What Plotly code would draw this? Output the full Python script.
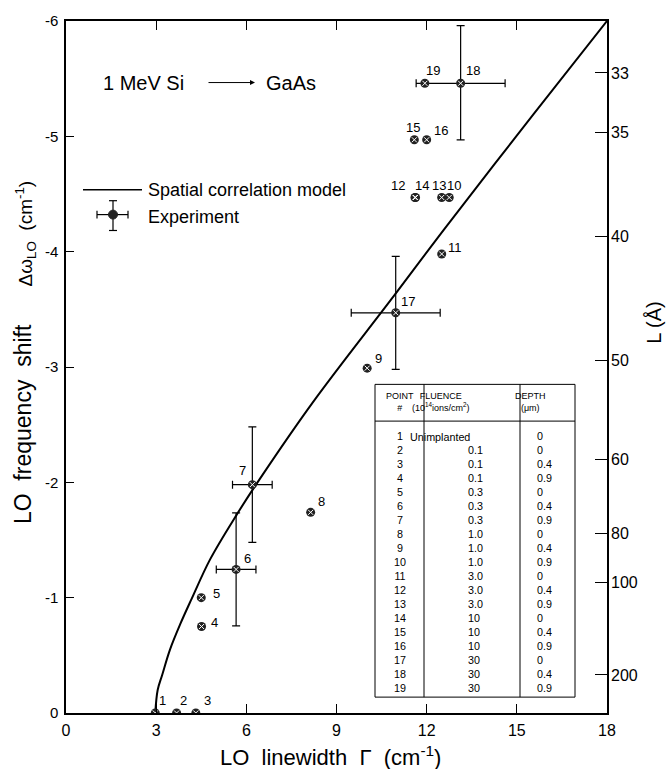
import plotly.graph_objects as go

# ---------------- data ----------------
point_ids = [str(i) for i in range(1, 20)]
linewidth = [2.97, 3.68, 4.32, 4.51, 4.50, 5.66, 6.20, 8.14, 10.02, 12.75,
             12.50, 11.61, 12.50, 11.63, 11.59, 12.00, 10.97, 13.13, 11.94]
shift = [0.0, 0.0, 0.0, -0.75, -1.00, -1.245, -1.98, -1.74, -2.99, -4.47,
         -3.98, -4.47, -4.47, -4.47, -4.97, -4.97, -3.47, -5.46, -5.46]

# error bars (only points 6, 7, 17, 18)
err_points = [6, 7, 17, 18]
err_x = [0.66, 0.66, 1.48, 1.48]
err_y_plus = [0.49, 0.50, 0.49, 0.49]
err_y_minus = [0.49, 0.50, 0.49, 0.50]

# spatial correlation model curve
model_x = [2.97, 3.05, 3.2, 3.46, 3.8, 4.18, 4.79, 5.68, 6.45, 8.23, 10.89, 12.6, 15.55, 18.0]
model_y = [0.0, -0.2, -0.33, -0.55, -0.77, -0.99, -1.33, -1.72, -2.03, -2.70, -3.61, -4.20, -5.19, -6.0]

# axis ticks
x_ticks = [0, 3, 6, 9, 12, 15, 18]
x_ticktext = ["0", "3", "6", "9", "12", "15", "18"]
y_ticks = [0, -1, -2, -3, -4, -5, -6]
y_ticktext = ["0", "-1", "-2", "-3", "-4", "-5", "-6"]
L_labels = ["33", "35", "40", "50", "60", "80", "100", "200"]
L_pos = [-5.55, -5.03, -4.13, -3.06, -2.20, -1.56, -1.13, -0.33]

# table
tbl_point = point_ids
tbl_fluence = ["Unimplanted", "0.1", "0.1", "0.1", "0.3", "0.3", "0.3", "1.0", "1.0", "1.0",
               "3.0", "3.0", "3.0", "10", "10", "10", "30", "30", "30"]
tbl_depth = ["0", "0", "0.4", "0.9", "0", "0.4", "0.9", "0", "0.4", "0.9",
             "0", "0.4", "0.9", "0", "0.4", "0.9", "0", "0.4", "0.9"]

# point label offsets (px) -- style only
label_shift = {
    1: (7, 13), 2: (7, 13), 3: (12, 13), 4: (13, 4), 5: (15, 4), 6: (11, 11),
    7: (-10, 14), 8: (11, 11), 9: (11, 10), 10: (5, 12), 11: (13, 6), 12: (-17, 12),
    13: (-3, 12), 14: (6, 12), 15: (-1, 12), 16: (14, 9), 17: (12, 11), 18: (12, 13), 19: (8, 13)
}

# ---------------- layout geometry ----------------
W, H = 667, 769
L_M, R_M, T_M, B_M = 66, 60, 16, 56
PW = W - L_M - R_M
PH = H - T_M - B_M


def px(xp):
    return (xp - L_M) / PW


def py(yp):
    return (H - B_M - yp) / PH


FONT = "Liberation Sans, Arial, Helvetica, sans-serif"

fig = go.Figure()

# model curve
fig.add_trace(go.Scatter(x=model_x, y=model_y, mode="lines",
                         line=dict(color="black", width=2, shape="spline", smoothing=1.0),
                         showlegend=False, hoverinfo="skip"))

# error bars
ex_x = [linewidth[i - 1] for i in err_points]
ex_y = [shift[i - 1] for i in err_points]
fig.add_trace(go.Scatter(x=ex_x, y=ex_y, mode="markers", marker=dict(size=1, color="rgba(0,0,0,0)"),
                         error_x=dict(type="data", array=err_x, color="black", thickness=1.2, width=4),
                         error_y=dict(type="data", array=err_y_plus, arrayminus=err_y_minus, symmetric=False,
                                      color="black", thickness=1.2, width=4),
                         showlegend=False, hoverinfo="skip"))

# points
fig.add_trace(go.Scatter(x=linewidth, y=shift, mode="markers",
                         marker=dict(symbol="circle", size=9, color="#222", line=dict(color="#222", width=0)),
                         showlegend=False, hoverinfo="skip"))
fig.add_trace(go.Scatter(x=linewidth, y=shift, mode="markers",
                         marker=dict(symbol="x-thin-open", size=5, color="white", line=dict(color="white", width=1)),
                         showlegend=False, hoverinfo="skip"))

# dummy trace for right axis
fig.add_trace(go.Scatter(x=model_x, y=model_y, yaxis="y2", mode="lines",
                         line=dict(width=0, color="rgba(0,0,0,0)"), showlegend=False, hoverinfo="skip"))

annotations = []
for i, (xv, yv) in enumerate(zip(linewidth, shift)):
    pid = i + 1
    dx, dy = label_shift[pid]
    annotations.append(dict(x=xv, y=yv, xref="x", yref="y", text=point_ids[i], showarrow=False,
                            xshift=dx, yshift=dy, font=dict(size=13, color="black", family=FONT)))


def ann_px(xp, yp, text, **kw):
    d = dict(x=px(xp), y=py(yp), xref="paper", yref="paper", text=text, showarrow=False)
    d.update(kw)
    annotations.append(d)


# title text
ann_px(101, 78, "1 MeV Si", xanchor="left", yanchor="middle", font=dict(size=20, family=FONT, color="black"))
annotations.append(dict(x=px(255), y=py(78), xref="paper", yref="paper", ax=-48, ay=0, text="", showarrow=True,
                        arrowhead=2, arrowsize=1, arrowwidth=1, arrowcolor="black"))
ann_px(264, 78, "GaAs", xanchor="left", yanchor="middle", font=dict(size=20, family=FONT, color="black"))

# legend text
ann_px(146, 186, "Spatial correlation model", xanchor="left", yanchor="middle",
       font=dict(size=18, family=FONT, color="black"))
ann_px(146, 213, "Experiment", xanchor="left", yanchor="middle", font=dict(size=18, family=FONT, color="black"))

# axis titles
ann_px(23, 422, "LO  frequency  shift", textangle=-90, xanchor="center", yanchor="middle",
       font=dict(size=23, family=FONT, color="black"))
ann_px(25, 230, "Δω<sub>LO</sub>  (cm<sup>-1</sup>)", textangle=-90, xanchor="center", yanchor="middle",
       font=dict(size=19, family=FONT, color="black"))
ann_px(330, 756, "LO  linewidth  Γ  (cm<sup>-1</sup>)", xanchor="center", yanchor="middle",
       font=dict(size=22, family=FONT, color="black"))
ann_px(654, 320, "L (Å)", textangle=-90, xanchor="center", yanchor="middle",
       font=dict(size=20, family=FONT, color="black"))

# table
T_LEFT, T_C1, T_C2, T_RIGHT = 375, 424, 520, 575
T_TOP, T_HDR, T_BOT = 382, 419, 697
ROW0, ROWH = 435, 13.98
CELL_SIZE = ROWH / 1.3
shapes = []
shapes.append(dict(type="rect", xref="paper", yref="paper", x0=px(T_LEFT), x1=px(T_RIGHT), y0=py(T_BOT), y1=py(T_TOP),
                   line=dict(color="black", width=1), fillcolor="white", layer="above"))
for xc in (T_C1, T_C2):
    shapes.append(dict(type="line", xref="paper", yref="paper", x0=px(xc), x1=px(xc), y0=py(T_BOT), y1=py(T_TOP),
                       line=dict(color="black", width=1)))
shapes.append(dict(type="line", xref="paper", yref="paper", x0=px(T_LEFT), x1=px(T_RIGHT), y0=py(T_HDR), y1=py(T_HDR),
                   line=dict(color="black", width=1)))

hdr_font = dict(size=9, family=FONT, color="black")
ann_px((T_LEFT + T_C1) / 2, 400, "POINT<br>#", font=hdr_font, align="center")
ann_px((T_C1 + T_C2) / 2, 400, "FLUENCE<br>(10<sup>14</sup>ions/cm<sup>2</sup>)", font=hdr_font, align="center")
ann_px((T_C2 + T_RIGHT) / 2, 400, "DEPTH<br>(μm)", font=hdr_font, align="center")

cell_font = dict(size=CELL_SIZE, family=FONT, color="black")
n = len(tbl_point)
mid_all = ROW0 + ROWH * (n - 1) / 2
mid_rest = ROW0 + ROWH * (1 + (n - 1)) / 2
ann_px(400, mid_all, "<br>".join(tbl_point), font=cell_font, align="center", yanchor="middle")
ann_px(472, ROW0, tbl_fluence[0], font=cell_font, yanchor="middle")
ann_px(466, mid_rest, "<br>".join(tbl_fluence[1:]), font=cell_font, align="left", xanchor="left", yanchor="middle")
ann_px(535, mid_all, "<br>".join(tbl_depth), font=cell_font, align="left", xanchor="left", yanchor="middle")

# legend glyphs
LGX, LGY = 113, 211
shapes.append(dict(type="line", xref="paper", yref="paper", x0=px(83), x1=px(142), y0=py(186), y1=py(186),
                   line=dict(color="black", width=1.5)))
shapes.append(dict(type="line", xref="paper", yref="paper", x0=px(LGX), x1=px(LGX), y0=py(197), y1=py(227),
                   line=dict(color="black", width=1.2)))
shapes.append(dict(type="line", xref="paper", yref="paper", x0=px(97), x1=px(128), y0=py(LGY), y1=py(LGY),
                   line=dict(color="black", width=1.2)))
for yc in (197, 227):
    shapes.append(dict(type="line", xref="paper", yref="paper", x0=px(LGX - 4), x1=px(LGX + 4), y0=py(yc), y1=py(yc),
                       line=dict(color="black", width=1.2)))
for xc in (97, 128):
    shapes.append(dict(type="line", xref="paper", yref="paper", x0=px(xc), x1=px(xc), y0=py(LGY - 4), y1=py(LGY + 4),
                       line=dict(color="black", width=1.2)))
shapes.append(dict(type="circle", xref="paper", yref="paper", x0=px(LGX - 4.5), x1=px(LGX + 4.5),
                   y0=py(LGY + 4.5), y1=py(LGY - 4.5), line=dict(color="#222", width=1), fillcolor="#222"))

fig.update_layout(
    width=W, height=H,
    margin=dict(l=L_M, r=R_M, t=T_M, b=B_M),
    paper_bgcolor="white", plot_bgcolor="white",
    showlegend=False,
    font=dict(family=FONT, color="black"),
    xaxis=dict(range=[0, 18], tickvals=x_ticks, ticktext=x_ticktext, ticks="inside", ticklen=9, tickwidth=1,
               tickcolor="black", showline=True, linecolor="black", linewidth=1.5, mirror="ticks",
               showgrid=False, zeroline=False, tickfont=dict(size=16), ticklabelstandoff=2),
    yaxis=dict(range=[0, -6], tickvals=y_ticks, ticktext=y_ticktext, ticks="inside", ticklen=8, tickwidth=1,
               tickcolor="black", showline=True, linecolor="black", linewidth=1.5, mirror=True,
               showgrid=False, zeroline=False, tickfont=dict(size=15), ticklabelstandoff=3),
    yaxis2=dict(range=[0, -6], overlaying="y", side="right", tickvals=L_pos, ticktext=L_labels, ticks="inside",
                ticklen=12, tickwidth=1, tickcolor="black", showline=False, showgrid=False, zeroline=False,
                tickfont=dict(size=16), ticklabelstandoff=3),
    annotations=annotations,
    shapes=shapes,
)

fig.write_html("out.html")
